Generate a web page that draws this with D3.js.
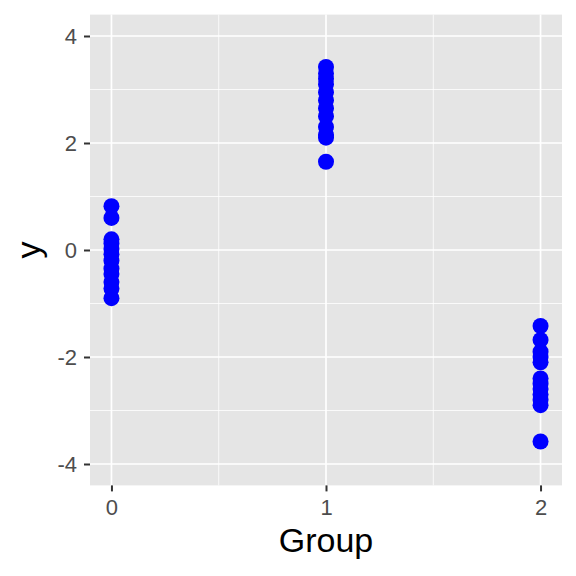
<!DOCTYPE html>
<html><head><meta charset="utf-8">
<script src="https://cdn.jsdelivr.net/npm/d3@7"></script>
<style>body{margin:0;background:#fff}</style>
</head><body>
<svg id="chart" width="576" height="576"></svg>
<script>
const groups = [0, 1, 2];
const group0 = [0.82, 0.6, 0.2, 0.12, 0.02, -0.08, -0.2, -0.35, -0.45, -0.6, -0.72, -0.9];
const group1 = [3.42, 3.3, 3.2, 3.1, 2.95, 2.8, 2.65, 2.5, 2.3, 2.15, 2.1, 1.65];
const group2 = [-1.42, -1.68, -1.9, -2.0, -2.1, -2.4, -2.5, -2.6, -2.7, -2.8, -2.9, -3.58];
const xTicks = [0, 1, 2];
const yTicks = [-4, -2, 0, 2, 4];
const xMinor = [0.5, 1.5];
const yMinor = [-3, -1, 1, 3];

const data = [];
[group0, group1, group2].forEach((vals, i) => vals.forEach(v => data.push({g: groups[i], y: v})));

const svg = d3.select("#chart");
const L = 90, R = 562, T = 14.6, B = 485.4;
const x = d3.scaleLinear().domain([-0.1, 2.1]).range([L, R]);
const y = d3.scaleLinear().domain([-4.4, 4.4]).range([B, T]);
const font = "Liberation Sans, Arial, Helvetica, sans-serif";

svg.append("rect").attr("x", L).attr("y", T).attr("width", R - L).attr("height", B - T).attr("fill", "#E5E5E5");

const grid = svg.append("g");
yMinor.forEach(v => grid.append("line").attr("x1", L).attr("x2", R).attr("y1", y(v)).attr("y2", y(v)).attr("stroke", "#fff").attr("stroke-width", 0.8));
xMinor.forEach(v => grid.append("line").attr("y1", T).attr("y2", B).attr("x1", x(v)).attr("x2", x(v)).attr("stroke", "#fff").attr("stroke-width", 0.8));
yTicks.forEach(v => grid.append("line").attr("x1", L).attr("x2", R).attr("y1", y(v)).attr("y2", y(v)).attr("stroke", "#fff").attr("stroke-width", 1.7));
xTicks.forEach(v => grid.append("line").attr("y1", T).attr("y2", B).attr("x1", x(v)).attr("x2", x(v)).attr("stroke", "#fff").attr("stroke-width", 1.7));

svg.append("g").selectAll("circle").data(data).join("circle")
  .attr("cx", d => x(d.g)).attr("cy", d => y(d.y)).attr("r", 8).attr("fill", "#0000FF");

const xAxis = svg.append("g").attr("transform", `translate(0,${B})`)
  .call(d3.axisBottom(x).tickValues(xTicks).tickFormat(d3.format("d")).tickSize(6).tickPadding(8));
const yAxis = svg.append("g").attr("transform", `translate(${L},0)`)
  .call(d3.axisLeft(y).tickValues(yTicks).tickFormat(d => d < 0 ? "-" + Math.abs(d) : d).tickSize(6).tickPadding(7));
[xAxis, yAxis].forEach(a => {
  a.select(".domain").remove();
  a.selectAll(".tick line").attr("stroke", "#333").attr("stroke-width", 2);
  a.selectAll(".tick text").attr("fill", "#4D4D4D").style("font-family", font).style("font-size", "22px");
});

svg.append("text").attr("x", (L + R) / 2).attr("y", 552).attr("text-anchor", "middle")
  .style("font-family", font).style("font-size", "34px").attr("fill", "#000").text("Group");
svg.append("text").attr("transform", `translate(40,${(T + B) / 2}) rotate(-90)`).attr("text-anchor", "middle")
  .style("font-family", font).style("font-size", "34px").attr("fill", "#000").text("y");
</script>
</body></html>
